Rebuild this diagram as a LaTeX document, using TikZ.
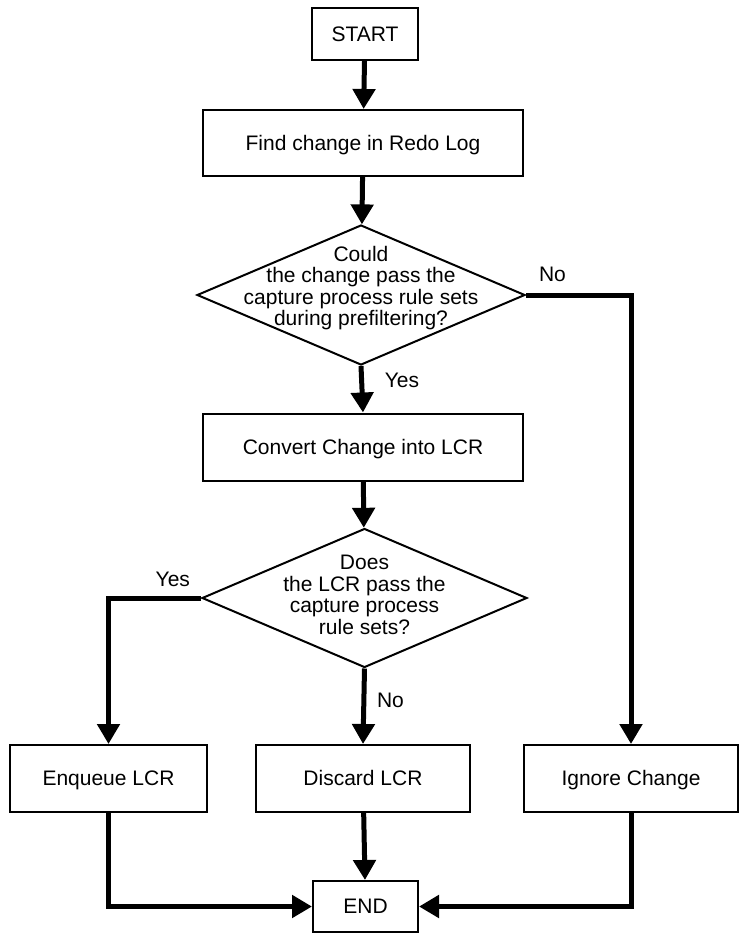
\documentclass[tikz,border=0pt]{standalone}
\usepackage{fontspec}
\setmainfont{Liberation Sans}
\usetikzlibrary{shapes.geometric,arrows.meta}

\begin{document}
\begin{tikzpicture}[x=0.5pt,y=-0.5pt,
		every node/.style={font=\fontsize{10.5}{10.8}\selectfont},
		process/.style={draw,line width=1pt,inner sep=0pt,align=center,text height=0.72em,text depth=0pt},
		decision/.style={draw,diamond,line width=1pt,inner sep=0pt},
		qtext/.style={align=center},
		flow/.style={line width=2.5pt,-{Triangle[length=10pt,width=11pt]}}]
		\useasboundingbox (0,0) rectangle (743,938);
		
		\node[process,minimum width=53pt,minimum height=26pt] (start) at (365,34) {START};
		\node[process,minimum width=160pt,minimum height=33pt] (find) at (363,143) {Find change in Redo Log};
		
		\node[decision,minimum width=164pt,minimum height=70pt] (q1) at (361,295) {};
		\node[qtext] (q1txt) at (361,288) {Could\\the change pass the\\capture process rule sets\\during prefiltering?};
		
		\node[process,minimum width=160pt,minimum height=33.5pt] (convert) at (363,447) {Convert Change into LCR};
		
		\node[decision,minimum width=162.5pt,minimum height=69.5pt] (q2) at (364.5,598) {};
		\node[qtext] (q2txt) at (364.5,595) {Does\\the LCR pass the\\capture process\\rule sets?};
		
		\node[process,minimum width=98.5pt,minimum height=33.5pt] (enq) at (108.5,778.5) {Enqueue LCR};
		\node[process,minimum width=107pt,minimum height=33.5pt] (disc) at (363,778.5) {Discard LCR};
		\node[process,minimum width=107pt,minimum height=33.5pt] (ign) at (631,778.5) {Ignore Change};
		\node[process,minimum width=52.5pt,minimum height=25.5pt] (end) at (365.5,906.5) {END};
		
		% main path
		\draw[flow] (start) -- (find);
		\draw[flow] (find) -- (q1);
		\draw[flow] (q1.south) -- (convert.north) node[pos=0.3,anchor=west,xshift=7pt] (yes1) {Yes};
		\draw[flow] (q1.east) -| (ign.north);
		\node[anchor=south west] (no1) at (532,289) {No};
		\draw[flow] (convert) -- (q2);
		
		% second decision
		\draw[flow] (q2.west) -| (enq.north);
		\node[anchor=south east] (yes2) at (197,594) {Yes};
		\draw[flow] (q2.south) -- (disc.north) node[pos=0.42,anchor=west,xshift=2pt] (no2) {No};
		
		% to END
		\draw[flow] (disc) -- (end);
		\draw[flow] (enq.south) |- (end.west);
		\draw[flow] (ign.south) |- (end.east);
	\end{tikzpicture}
\end{document}
